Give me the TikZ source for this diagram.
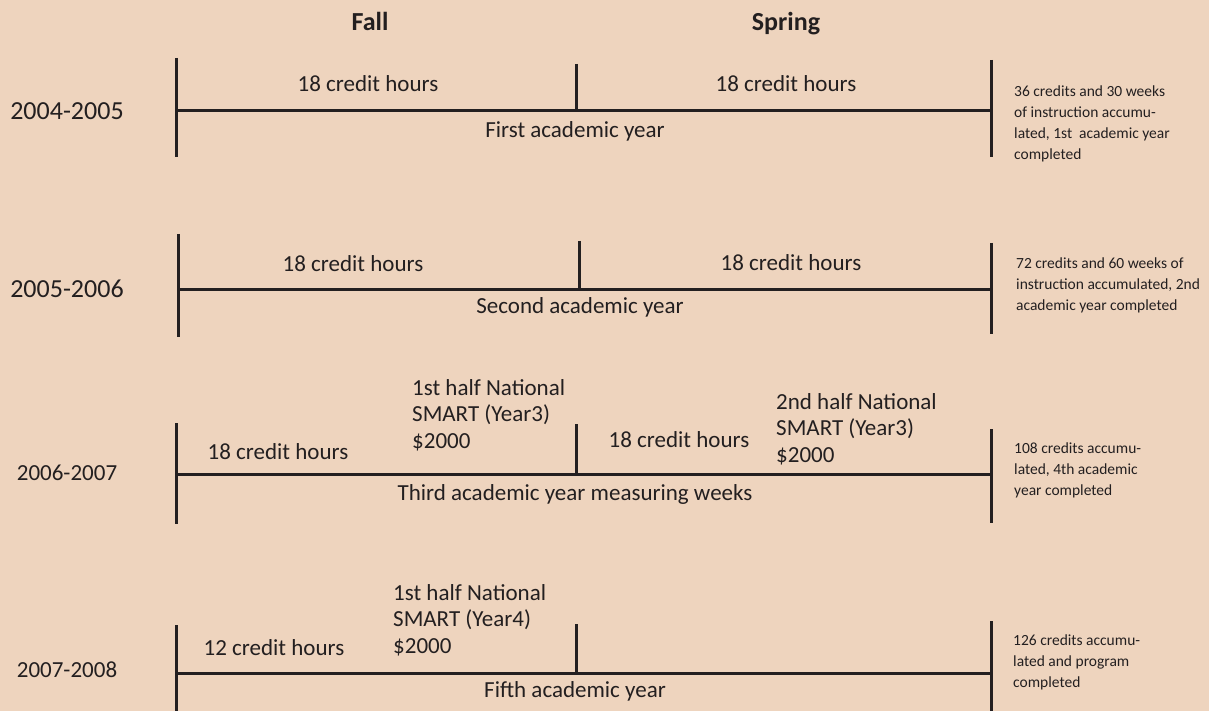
\documentclass[tikz,border=0pt]{standalone}
\usepackage{fontspec}
\setmainfont{Carlito}
\definecolor{bg}{RGB}{238,212,190}
\definecolor{ink}{RGB}{35,31,32}
\begin{document}
\begin{tikzpicture}[x=1pt,y=-1pt,
  tl/.style={line width=3pt, draw=ink},
  lab/.style={inner sep=0pt, anchor=base, font=\fontsize{23}{28}\selectfont, text=ink},
  blk/.style={inner sep=0pt, anchor=base west, align=left, font=\fontsize{23}{26.5}\selectfont, text=ink},
  note/.style={inner sep=0pt, anchor=base west, align=left, font=\fontsize{15.5}{21}\selectfont, text=ink},
  yrbig/.style={inner sep=0pt, anchor=base, font=\fontsize{26}{30}\selectfont, text=ink},
  yrsmall/.style={inner sep=0pt, anchor=base, font=\fontsize{23}{28}\selectfont, text=ink},
  hd/.style={inner sep=0pt, anchor=base, font=\fontsize{26}{30}\selectfont\bfseries, text=ink}]
\fill[bg] (0,0) rectangle (1209,711);
\useasboundingbox (0,0) rectangle (1209,711);

% headers
\node[hd] (fall) at (370,31) {Fall};
\node[hd] (spring) at (786,31) {Spring};

% (multi-line nodes are placed by the baseline of their LAST line)

% ---------- row 1
\coordinate (a1t) at (176,58);  \coordinate (a1b) at (176,157);
\coordinate (m1t) at (576,64);  \coordinate (m1b) at (576,111);
\coordinate (z1t) at (991,60);  \coordinate (z1b) at (991,157);
\coordinate (h1l) at (176,111); \coordinate (h1r) at (991,111);
\draw[tl] (a1t) -- (a1b);
\draw[tl] (m1t) -- (m1b);
\draw[tl] (z1t) -- (z1b);
\draw[tl] (h1l) -- (h1r);
\node[yrbig] (y1) at (67,120) {2004-2005};
\node[lab] (f1) at (368,92) {18 credit hours};
\node[lab] (s1) at (786,92) {18 credit hours};
\node[lab] (t1) at (575,138) {First academic year};
\node[note] (n1) at (1014,160) {36 credits and 30 weeks\\of instruction accumu-\\lated, 1st\ \ academic year\\completed};

% ---------- row 2
\coordinate (a2t) at (178,234); \coordinate (a2b) at (178,337);
\coordinate (m2t) at (579,241); \coordinate (m2b) at (579,289);
\coordinate (z2t) at (991,243); \coordinate (z2b) at (991,334);
\coordinate (h2l) at (178,289); \coordinate (h2r) at (991,289);
\draw[tl] (a2t) -- (a2b);
\draw[tl] (m2t) -- (m2b);
\draw[tl] (z2t) -- (z2b);
\draw[tl] (h2l) -- (h2r);
\node[yrbig] (y2) at (67,297) {2005-2006};
\node[lab] (f2) at (353,271) {18 credit hours};
\node[lab] (s2) at (791,270) {18 credit hours};
\node[lab] (t2) at (580,313) {Second academic year};
\node[note] (n2) at (1016,310) {72 credits and 60 weeks of\\instruction accumulated, 2nd\\academic year completed};

% ---------- row 3
\coordinate (a3t) at (176,423); \coordinate (a3b) at (176,524);
\coordinate (m3t) at (576,424); \coordinate (m3b) at (576,474);
\coordinate (z3t) at (991,429); \coordinate (z3b) at (991,523);
\coordinate (h3l) at (176,474); \coordinate (h3r) at (991,474);
\draw[tl] (a3t) -- (a3b);
\draw[tl] (m3t) -- (m3b);
\draw[tl] (z3t) -- (z3b);
\draw[tl] (h3l) -- (h3r);
\node[yrsmall] (y3) at (67,480) {2006-2007};
\node[lab] (f3) at (278,459) {18 credit hours};
\node[blk] (b3a) at (412,448) {1st half National\\SMART (Year3)\\\$2000};
\node[lab] (s3) at (679,447) {18 credit hours};
\node[blk] (b3b) at (776,462) {2nd half National\\SMART (Year3)\\\$2000};
\node[lab] (t3) at (575,500) {Third academic year measuring weeks};
\node[note] (n3) at (1014,495) {108 credits accumu-\\lated, 4th academic\\year completed};

% ---------- row 4
\coordinate (a4t) at (176,625); \coordinate (a4b) at (176,711);
\coordinate (m4t) at (576,624); \coordinate (m4b) at (576,673);
\coordinate (z4t) at (991,621); \coordinate (z4b) at (991,711);
\coordinate (h4l) at (176,673); \coordinate (h4r) at (991,673);
\draw[tl] (a4t) -- (a4b);
\draw[tl] (m4t) -- (m4b);
\draw[tl] (z4t) -- (z4b);
\draw[tl] (h4l) -- (h4r);
\node[yrsmall] (y4) at (67,677) {2007-2008};
\node[lab] (f4) at (274,655) {12 credit hours};
\node[blk] (b4a) at (393,653) {1st half National\\SMART (Year4)\\\$2000};
\node[lab] (t4) at (575,697) {Fifth academic year};
\node[note] (n4) at (1013,687) {126 credits accumu-\\lated and program\\completed};
\end{tikzpicture}
\end{document}
